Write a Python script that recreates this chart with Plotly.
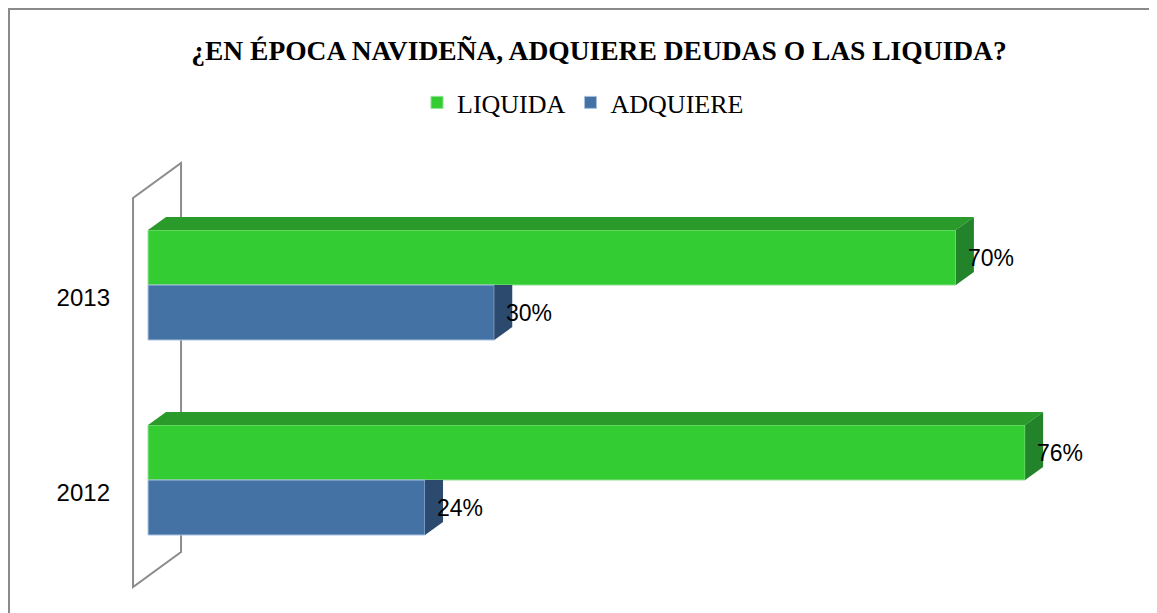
import plotly.graph_objects as go

# ---- data ----
categories = ["2012", "2013"]
liquida = [76, 70]
adquiere = [24, 30]
series_names = ["LIQUIDA", "ADQUIERE"]
title_text = "¿EN ÉPOCA NAVIDEÑA, ADQUIERE DEUDAS O LAS LIQUIDA?"

# ---- styling / layout constants (figure sits 8px into the page) ----
W, H = 1149, 605
ML, MR, MT, MB = 112, 28, 142, 13
PX_PER_Y = 195.0
Y_TOP = 1.6923
XR = [-2.43, 85]
YR = [Y_TOP - (H - MT - MB) / PX_PER_Y, Y_TOP]
px_x = (W - ML - MR) / (XR[1] - XR[0])
px_y = (H - MT - MB) / (YR[1] - YR[0])
DX = 18 / px_x          # 3D depth offset (x, data units)
DY = 13 / px_y          # 3D depth offset (y, data units)
BW = 55 / px_y          # bar thickness in y units

G_FRONT, G_TOP, G_SIDE = "#33cc33", "#2a9a2a", "#22832a"
B_FRONT, B_SIDE = "#4472a5", "#2c4a6e"
SANS = "Liberation Sans, Arial, sans-serif"
SERIF = "Liberation Serif, Times New Roman, serif"

pos = list(range(len(categories)))
yg = [p + BW / 2 for p in pos]
yb = [p - BW / 2 for p in pos]

fig = go.Figure()

# front faces as bars
fig.add_trace(go.Bar(name=series_names[0], y=yg, x=liquida, orientation="h", width=BW,
                     marker=dict(color=G_FRONT, line=dict(color="#8fe08f", width=1)),
                     hoverinfo="x"))
fig.add_trace(go.Bar(name=series_names[1], y=yb, x=adquiere, orientation="h", width=BW,
                     marker=dict(color=B_FRONT, line=dict(color="#a9c1e0", width=1)),
                     hoverinfo="x"))

def poly_trace(xs, ys, color):
    return go.Scatter(x=xs, y=ys, mode="lines", fill="toself", fillcolor=color,
                      line=dict(width=0, color=color), showlegend=False, hoverinfo="skip")

# green: top + side faces
gx_top, gy_top, gx_side, gy_side = [], [], [], []
for v, yc in zip(liquida, yg):
    top, bot = yc + BW / 2, yc - BW / 2
    gx_top += [0, DX, v + DX, v, 0, None]
    gy_top += [top, top + DY, top + DY, top, top, None]
    gx_side += [v, v + DX, v + DX, v, v, None]
    gy_side += [top, top + DY, bot + DY, bot, top, None]
fig.add_trace(poly_trace(gx_top, gy_top, G_TOP))
fig.add_trace(poly_trace(gx_side, gy_side, G_SIDE))

# blue: visible part of side faces
bx_side, by_side = [], []
for v, yc in zip(adquiere, yb):
    top, bot = yc + BW / 2, yc - BW / 2
    bx_side += [v, v + DX, v + DX, v, v, None]
    by_side += [top, top, bot + DY, bot, top, None]
fig.add_trace(poly_trace(bx_side, by_side, B_SIDE))

# data labels
ann = []
for vals, ys in ((liquida, yg), (adquiere, yb)):
    for v, yc in zip(vals, ys):
        ann.append(dict(x=v, y=yc, xref="x", yref="y", text=f"{v}%", showarrow=False,
                        xanchor="left", yanchor="middle", xshift=10,
                        font=dict(family=SANS, size=23, color="#000000")))

# back wall
wx0, wx1 = -1.30, 2.86
wall = dict(type="path", xref="x", yref="y", layer="below",
            path=f"M {wx0},{-0.549} L {wx0},{1.446} L {wx1},{1.626} L {wx1},{-0.369} Z",
            line=dict(color="#8c8c8c", width=2), fillcolor="rgba(255,255,255,0)")
# chart frame (only left and top edges are within view)
pw, ph = W - ML - MR, H - MT - MB
fx0, fx1 = (1 - ML) / pw, (W + 20 - ML) / pw
fy0, fy1 = -0.2, (H - MB - 1) / ph
frame = dict(type="path", xref="paper", yref="paper", layer="below",
             path=f"M {fx0},{fy0} L {fx0},{fy1} L {fx1},{fy1}",
             line=dict(color="#8a8a8a", width=2))

fig.update_layout(
    width=W, height=H,
    margin=dict(l=ML, r=MR, t=MT, b=MB),
    paper_bgcolor="white", plot_bgcolor="white",
    barmode="overlay",
    title=dict(text=f"<b>{title_text}</b>", x=591 / W, xanchor="center", y=1 - 42 / H, yanchor="middle",
               font=dict(family=SERIF, size=27.5, color="#000000")),
    legend=dict(orientation="h", x=(409 - ML) / pw, xanchor="left", y=(H - MB - 71) / ph, yanchor="top",
                traceorder="normal",
                font=dict(family=SERIF, size=26, color="#000000")),
    xaxis=dict(range=XR, showgrid=False, zeroline=False, showticklabels=False, showline=False, fixedrange=True),
    yaxis=dict(range=YR, showgrid=False, zeroline=False, showline=False, ticks="",
               tickvals=[p - DY for p in pos], ticktext=categories, ticklabelstandoff=9,
               tickfont=dict(family=SANS, size=24, color="#000000")),
    annotations=ann,
    shapes=[wall, frame],
    showlegend=True,
)

fig.write_html("out.html")
